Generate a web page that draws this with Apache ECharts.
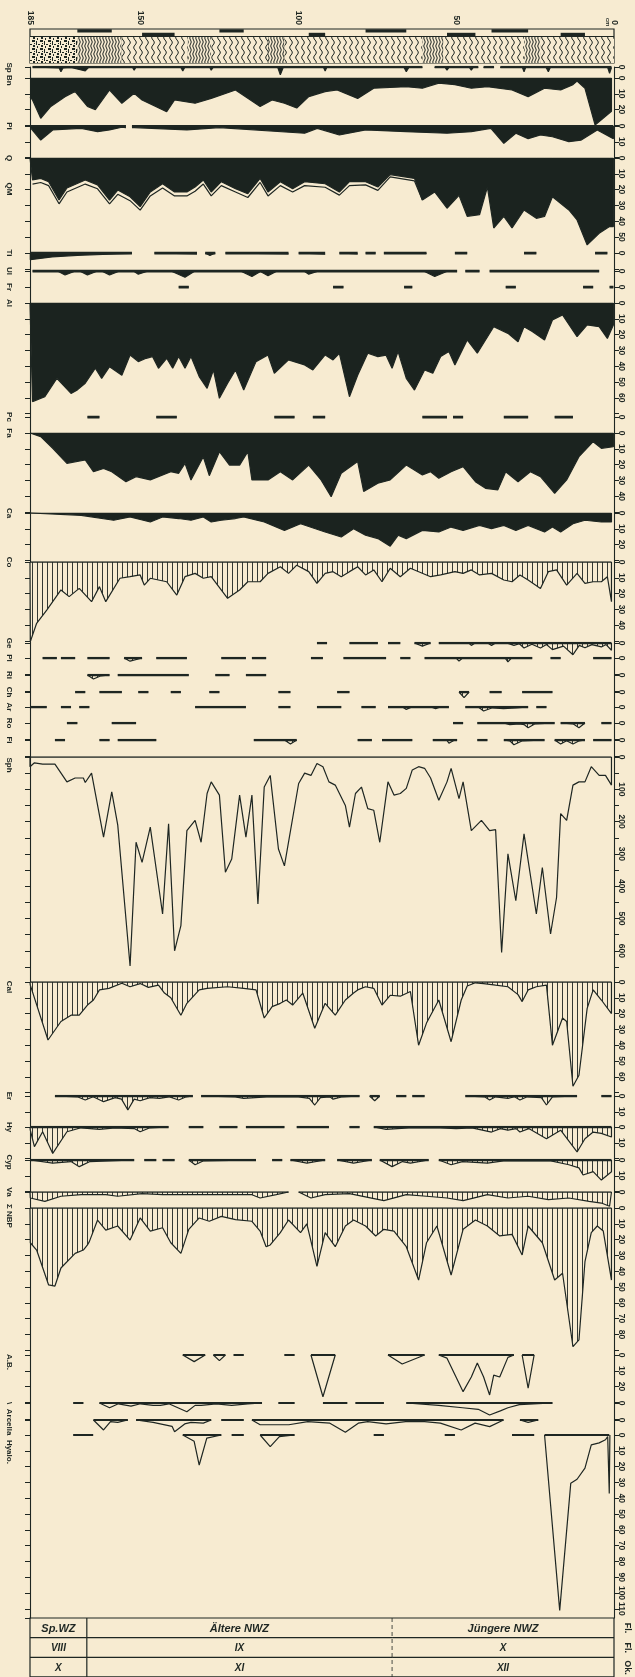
<!DOCTYPE html>
<html><head><meta charset="utf-8">
<script src="https://cdn.jsdelivr.net/npm/echarts@6/dist/echarts.min.js"></script>
<style>html,body{margin:0;padding:0;background:#f7ebd1;}#c{width:635px;height:1677px;}</style>
</head><body><div id="c"></div>
<script>
// ---------------- DATA (depth cm, value) ----------------
const DEPTH_LABELS = [185, 150, 100, 50, 0];

const SP = [[184.2,0],[175.8,0.5],[175.2,3],[174.5,0.5],[172,0.3],[167.5,2.5],[166.5,0.3],[152.5,0.3],[152,2],[151.5,0.3],[137.2,0.3],[136.6,2.5],[136,0.3],[128,0.3],[127.6,2],[127,0.3],[106.5,0.3],[105.7,5],[104.8,0.3],[92,0.3],[91.5,2.5],[91,0.3],[66.5,0.3],[65.8,3],[65,0.3],[60.7,0.3],[60.7,null],[56.8,0.3],[53.5,0.3],[52.9,2],[52.3,0.3],[45.8,0.3],[45.2,2],[44.6,0.3],[43,0.3],[43,null],[41.3,0.3],[38,0.3],[38,null],[36,0.3],[29,0.3],[28.5,3],[28,0.3],[21.5,0.3],[20.8,3],[20.2,0.3],[2,0.3],[1.4,4],[0.8,0.3]];
const BN = [[185,12],[184.2,13.9],[181.6,25.5],[178.4,18],[173.9,11.8],[170.7,8.6],[166.8,18],[164.3,20],[159.8,7.6],[155.9,16],[152,9.7],[149.5,13.9],[141.7,21.3],[139.2,13.9],[132.7,16],[127.6,12.9],[119.9,7.6],[112.1,18],[108.3,13.9],[104.4,16],[100.5,19],[96.7,11.8],[91.5,8.6],[87.7,7.6],[81.2,12.9],[76.1,6.5],[65.8,5.5],[60.7,6.5],[55.5,3.2],[50.4,4.2],[45.2,6.5],[40.1,5.5],[32.3,7.6],[27.2,11.8],[22,6.5],[16.9,7.6],[13,4.2],[11.7,2],[9.2,6.5],[6,29.7],[0.8,21],[0.8,0]];
const PI = [[184.9,1],[181.6,8.9],[177.8,2.5],[168.8,1.5],[163.6,3.6],[159.8,2.5],[155.9,0.8],[154.6,1],[154.6,null],[152.7,1],[152,1],[135.3,2.5],[125,1],[98,4.6],[94,1.5],[87,5.7],[78.7,2.5],[65.8,3.6],[52.9,4.6],[45.2,3.6],[39,1.5],[34.9,11],[31.1,4.6],[27.2,8],[23.3,5.7],[19.5,6.8],[14.3,9.9],[10.5,9],[5.3,2.5],[0.2,8],[0.2,0]];
const Q = [[185,0],[184.2,13.9],[181.6,12.9],[179.1,15],[175.8,26.6],[173.3,19],[167.5,13.9],[163.6,17],[159.8,26.6],[157.2,20.3],[153.3,24.5],[150.1,30.8],[146.9,21.5],[143,16.3],[139.2,21.5],[135.3,21.5],[132.7,18.4],[130.1,13.9],[127.6,21.5],[124.4,15],[119.9,19.4],[116,22.6],[112.1,12.9],[109.6,21.5],[105.7,15],[101.8,19.4],[98,15],[91.5,16.3],[87,21.5],[83.8,15],[78.7,15],[74.8,18.4],[70.9,10.5],[63.2,12.9],[60.7,26.6],[56.8,21.5],[52.9,31.8],[49.1,23.6],[46.5,36.9],[42.6,35.9],[40.1,18.4],[38.1,44.3],[34.9,36.9],[32.3,44.3],[28.5,32.9],[24.6,38.2],[22,37],[19.5,24.5],[14.3,32.9],[11.7,39.2],[8.5,55],[4.7,47.6],[1.4,43.4],[0.2,43.4],[0.2,0]];
const QM = [[184.2,16.5],[181.6,15.5],[179.1,17.5],[175.8,29],[173.3,21.5],[167.5,16.5],[163.6,19.5],[159.8,29],[157.2,23],[153.3,27],[150.1,33],[146.9,24],[143,19],[139.2,24],[135.3,24],[132.7,21],[130.1,16.5],[127.6,24],[124.4,17.5],[119.9,21.5],[116,25],[112.1,15.5],[109.6,24],[105.7,17.5],[101.8,21.5],[98,17.5],[91.5,18.5],[87,23.5],[83.8,17.5],[78.7,17],[74.8,20.5],[70.9,12],[63.2,14.5],[60.7,26.6]];
const TI = [[184.9,0],[184.9,4.2],[178,2.5],[170,1.5],[160,0.8],[152.7,0.3],[152.7,null],[145.6,0],[132.1,0.5],[132.1,null],[129.5,0],[128,1.5],[126.3,0],[126.3,null],[123.1,0],[103.1,0.5],[103.1,null],[99.9,0],[91.5,0.8],[91.5,null],[87,0],[81.2,0.5],[81.2,null],[78.7,0],[75.5,0],[75.5,null],[72.9,0],[59.4,0.3],[59.4,null],[50.4,0],[46.5,0],[46.5,null],[28.5,0],[24.6,0],[24.6,null],[6,0],[2.1,0]];
const UL = [[184.2,0],[176,0.3],[173.9,2.5],[171,0.3],[169,0.3],[166.8,2.5],[164,0.3],[162,0.3],[159.8,2.5],[157,0.3],[152,0.3],[150.7,2],[148,0.3],[140,0.3],[135.9,4],[133,0.3],[118,0.3],[114.7,3.5],[112,0.3],[109.6,3],[107,0.3],[98,0.3],[96.7,2],[94,0.3],[60,0.3],[56.8,3.5],[53,0.3],[49.7,0],[49.7,null],[47.1,0],[42.6,0],[42.6,null],[39.4,0],[4.7,0]];
const FR_DASHES = [[137.9,134.7],[89,85.7],[66.5,63.9],[34.3,31.1],[9.8,6.6],[1.4,0.2]];
const AL = [[185,0],[184.2,62.4],[180.3,59.3],[176.5,47.7],[172,57.2],[170,55],[167.5,50.8],[164.3,41.3],[162.3,47.7],[159.8,40.3],[155.9,45.7],[153.3,32.9],[150.7,37.1],[148.2,35],[146.2,33.9],[144.3,41.3],[141.7,35],[139.8,41.3],[137.9,33.9],[135.9,41.3],[134,33.9],[131.4,46.6],[128.9,54],[126.9,42.4],[125,60.3],[122.4,50.8],[119.9,42.4],[117.3,55.1],[113.4,37.1],[109.6,32.9],[107.6,44.5],[103.1,36],[98,39.2],[95.4,42.4],[91.5,32.9],[89,36],[87,31.8],[83.8,59.3],[81.2,45.7],[78,31.8],[74.8,33.9],[72.2,33],[70.3,41.3],[68.4,30.7],[65.8,47.7],[63.2,55.1],[60,42.4],[57.4,44.5],[54.9,33.9],[52.3,30.7],[50.4,39.2],[46.5,23.4],[43.3,31.8],[38.1,15],[33.6,19.2],[30.4,24.5],[28.5,15],[25.9,18.1],[22,23.4],[19.5,10.8],[16.3,7.6],[11.7,21.3],[8.5,13.9],[4.7,15],[2.1,22.4],[0.2,13.9],[0.2,0]];
const PC_DASHES = [[166.8,163],[145,138.5],[107.6,101.2],[95.4,91.5],[60.7,52.9],[51,47.8],[34.9,27.2],[18.8,13]];
const FA = [[185,0],[181.6,2.3],[177.8,9.7],[173.3,19.2],[167.5,17.1],[164.9,24.5],[161.7,22.4],[159.1,24.5],[154.6,30.8],[151.4,27.6],[146.9,29.7],[140.4,24.5],[137.9,25.5],[135.9,19.2],[134,29.7],[130.1,15],[128.2,27],[125,11.8],[121.8,20.3],[118.6,20.3],[116,11.8],[114.7,29.7],[109.6,29.7],[105.7,24.5],[101.8,29.7],[96.7,20.3],[92.8,29.7],[89.6,40.3],[86.4,25.5],[81.2,18.1],[79.3,37],[74.8,31.8],[70.9,29.7],[65.8,20.3],[60.7,26.6],[58.1,24.5],[55.5,28.7],[51.6,24.5],[47.8,21.3],[43.9,30.8],[40.7,35],[36.8,36],[34.3,24.5],[30.4,30.8],[26.5,24.5],[23.3,27.6],[18.8,38.2],[15,29.7],[11.1,15],[6.6,5.5],[4,9.7],[0.2,8.7],[0.2,0]];
const CA = [[185,0],[184.9,0.4],[168.8,1.5],[158.5,4.6],[153.3,2.5],[146.9,5.7],[143,2.5],[137.9,3.5],[134,4.6],[130.1,2.5],[127.6,5.7],[124.4,4.6],[119.9,3.5],[117.3,2.5],[110.8,5.7],[104.4,11],[99.3,6.8],[91.5,12],[86.4,15.2],[82.5,9.9],[78.7,14.1],[74.8,16.2],[70.9,21],[68.4,14.1],[65.8,16.2],[60.7,11],[55.5,12],[51.6,8.9],[47.8,11],[42.6,7.8],[38.8,9.9],[34.9,7.8],[31.1,11],[27.2,7.8],[22,12],[19.5,8.9],[16.9,12],[13,6.8],[9.2,4.6],[4,5.7],[0.8,5.7],[0.8,0]];
const CO = [[185,0],[184.9,50.4],[182.9,38.8],[179.7,30.4],[177.8,25.1],[175.2,17.7],[172.6,21.9],[169.4,16.7],[165.5,25.1],[163,15.6],[161,25.1],[156.5,10.3],[153.3,9.3],[150.1,8.2],[148.8,14.6],[146.9,10.3],[141.7,12.5],[138.5,20.9],[135.9,9.3],[132.7,7.2],[130.1,10.3],[127.6,9.3],[122.4,23],[118.6,17.7],[116,12.5],[112.1,12.5],[109.6,7.2],[105.7,3],[103.1,7.2],[100.5,2],[96.7,6.1],[94.1,13.5],[91.5,7.2],[89,6.1],[86.4,9.3],[83.8,6.1],[81.2,3],[78.7,8.2],[76.1,5],[73.5,12.5],[70.9,4],[67.7,9.3],[64.5,4],[58.1,9.3],[54.9,8.2],[50.4,6.1],[47.8,7.2],[45.2,5],[42.6,8.2],[38.8,7.2],[34.9,11.4],[32.3,12.5],[29.8,8.2],[27.2,11.4],[23.3,16.7],[20.8,6.1],[18.2,5],[15,14.6],[11.7,7.2],[9.2,13.5],[6.6,12.5],[4,12.5],[2.1,9.3],[0.8,25.1],[0.8,0]];
const GE_SEGS = [[[94.1,0],[90.9,0]],[[83.8,0],[74.8,0]],[[71.6,0],[67.7,0]],[[63.2,0],[60.7,2],[58.1,0]],[[55.5,0],[46,0],[45.2,1.5],[44,0],[40,0],[38.8,1.5],[37.5,0],[34,0],[31.7,1.5],[30,0.5],[28.5,3.2],[26,0.8],[23.3,3.2],[21.4,1],[19.5,4.2],[16,2],[13,7.4],[11,1.5],[9.2,3],[7,1],[4,2.5],[2.5,1],[0.8,4.6],[0.8,0]]];
const PL_SEGS = [[[181,0],[176.5,0]],[[175.2,0],[170.7,0]],[[166.8,0],[159.8,0]],[[155.2,0],[153.3,2],[149.5,0]],[[145,0],[135.3,0]],[[124.4,0],[116.6,0]],[[114.7,0],[110.2,0]],[[96,0],[92.2,0]],[[85.7,0],[72.2,0]],[[67.7,0],[64.5,0]],[[60,0],[50,0],[49.1,2],[48,0],[34.5,0],[33.6,2.5],[32.5,0],[25.9,0]],[[20.1,0],[16.9,0]],[[6.6,0],[0.8,0]]];
const RI_SEGS = [[[166.8,0],[164.9,2.5],[162.5,0.5],[159.8,0]],[[157.2,0],[134.7,0]],[[126.3,0],[121.8,0]],[[116.6,0],[110.2,0]]];
const CH_SEGS = [[[170.7,0],[167.5,0]],[[163,0],[155.9,0]],[[150.7,0],[147.5,0]],[[140.4,0],[137.2,0]],[[128.2,0],[125,0]],[[106.3,0],[102.5,0]],[[87.7,0],[83.8,0]],[[49.1,0],[47.5,3.5],[45.9,0]],[[39.4,0],[35.6,0]],[[29.1,0],[19.5,0]]];
const AR_SEGS = [[[184.9,0],[179.7,0]],[[175.2,0],[172,0]],[[169.4,0],[166.2,0]],[[132.7,0],[116.6,0]],[[106.3,0],[102.5,0]],[[94.1,0],[86.4,0]],[[80,0],[75.5,0]],[[71.6,0],[67,0],[65.8,1.5],[64,0],[58,0],[56.5,1],[55,0],[52.3,0]],[[47.1,0],[43,0],[41.3,2.5],[38.5,0.5],[35,1],[31,0.5],[27.2,0]],[[24.6,0],[21.4,0]]];
const RO_SEGS = [[[173.3,0],[170,0]],[[159.1,0],[151.4,0]],[[51,0],[47.8,0]],[[43.3,0],[35,0],[33,1],[30,0.5],[28.5,1],[27.2,3],[25,0.5],[18.8,0]],[[16.9,0],[13,0.5],[11.1,3],[9.2,0]],[[4,0],[0.8,0]]];
const FI_SEGS = [[[177.1,0],[173.9,0]],[[163,0],[159.8,0]],[[157.2,0],[145,0]],[[114.1,0],[104.4,0],[102.5,2.5],[100.5,0]],[[81.2,0],[76.7,0]],[[73.5,0],[63.9,0]],[[57.4,0],[53,0],[52.3,2],[50.5,0],[49.7,0]],[[43.3,0],[40.1,0]],[[34.9,0],[33,0.5],[31.7,3],[29,0.5],[22,0]],[[18.8,0],[16.9,2.5],[15,0.5],[13,2.5],[11,0.5],[9.2,0]],[[6.6,0],[0.8,0]]];
const SPH = [[185,0],[185,30],[183.6,18],[181,22],[177.1,22],[173.3,77],[170.7,65],[168.1,65],[167.5,79],[165.5,50],[161.7,248],[159.1,108],[157.2,211],[153.3,647],[151.4,264],[149.5,326],[146.9,217],[143,486],[141.1,207],[139.2,600],[137.2,522],[135.3,228],[132.7,196],[130.8,264],[128.9,113],[127.6,77],[125,118],[123.1,357],[121.1,316],[118.6,118],[116.6,248],[114.7,118],[112.8,455],[110.8,93],[108.9,57],[106.3,285],[104.4,337],[99.9,82],[98,50],[96,57],[94.1,20],[92.2,30],[90.3,77],[88.3,87],[85.1,150],[83.8,217],[81.9,113],[80,93],[78,160],[76.1,165],[74.2,264],[71.6,77],[69.7,118],[67.7,113],[65.8,97],[63.9,40],[61.9,30],[60,35],[58.1,65],[55.5,134],[52.9,77],[51.6,35],[49.1,129],[47.8,77],[45.2,228],[42,196],[39.4,228],[37.5,225],[35.6,605],[33.6,300],[31.1,445],[28.5,238],[24.6,486],[22.7,342],[20.1,548],[18.2,435],[16.9,175],[15,196],[13,87],[11.1,77],[9.2,77],[7.2,30],[4.7,57],[2.7,57],[0.8,87],[0.8,0]];
const CAL = [[185,0],[184.9,2],[179.3,36.7],[175.2,25],[172,21],[169.4,21],[166.8,14.6],[164.9,11.4],[163,5],[160,4],[155.9,0.8],[153.3,3],[150.1,1],[147.5,3.4],[144.3,2],[142.4,7],[140.4,10],[137.2,21],[135.3,13.5],[131.4,5],[128.9,4],[122.4,3],[117.3,4],[113.4,5],[110.8,22.8],[108.3,15.6],[105.7,13.5],[103.8,11.4],[101.8,14.6],[98.6,7],[94.8,29.3],[91.5,13.5],[88.3,21],[85.1,11.4],[82.5,7],[81.2,5],[78.7,3],[76.1,4],[73.5,14.6],[70.9,8.4],[67.7,9],[64.5,6],[61.9,40],[59.4,26],[55.5,11.4],[51.6,37.8],[48.4,11.4],[46.5,2.5],[43.9,0.5],[41.3,1],[37.5,2],[33.6,3],[30.4,8],[29.1,12.4],[27.2,5],[24.6,3],[21.4,2],[19.5,40],[16.3,22.8],[15,25],[13,66],[11.1,59],[8.5,16.7],[6.6,5],[4,11.4],[0.8,20],[0.8,0]];
const ER_SEGS = [[[177.1,0],[170,0.5],[167.5,2.5],[165,0.5],[161.7,3.6],[158,1],[156,2],[154,8.9],[152,2],[150.1,3],[147,1],[144,1.5],[141,0.5],[137.9,2.5],[135.5,0.5],[133.4,0]],[[130.8,0],[120,0.5],[117.3,1.5],[110,0.5],[100,0.5],[96.5,1.5],[94.8,5.7],[93,1],[90,0.5],[89,2],[86,0.5],[80.6,0]],[[77.4,0],[75.8,3],[74.2,0]],[[69,0],[65.8,0]],[[63.9,0],[60,0]],[[47.1,0],[41,0.5],[39.4,2.5],[37.5,0.5],[33.6,1.5],[31.5,0.5],[29.8,2.5],[27.5,0.5],[23,1],[21.4,5.7],[19.5,0.5],[11.7,0]],[[4,0],[0.8,0]]];
const HY_SEGS = [[[185,0],[184.9,2],[183.6,12.4],[181,3],[177.8,16.7],[173.3,3],[168.8,0.5],[163,1.5],[158,0.5],[152,1],[150.1,3],[147,0.5],[141.1,0]],[[134.7,0],[130.1,0]],[[125,0],[119.3,0]],[[116.6,0],[104.4,0]],[[100.5,0],[90.3,0]],[[83.8,0],[80.6,0]],[[76.1,0],[72.2,1.5],[65,0.5],[55,0.5],[50,1],[45,0.5],[38.8,3.2],[36,1],[33.6,2],[31,1],[29.8,3.2],[27,1],[21.4,7.4],[16.9,2],[11.7,15.8],[9.2,7.4],[6.6,3.2],[4,4],[0.8,6.3],[0.8,0]]];
const CYP_SEGS = [[[184.9,0],[177.8,2],[172,1],[169.4,4.2],[166,1],[160,0.5],[152,0]],[[148.8,0],[145,0]],[[143,0],[139.2,0]],[[134.7,0],[132.7,3],[130,0.5],[113.4,0]],[[108.3,0],[105.1,0]],[[102.5,0],[97.3,2],[91.5,0]],[[87.7,0],[82.5,2],[76.7,0]],[[74.2,0],[70.3,4.2],[67,1],[64.5,2],[58.7,0]],[[55.5,0],[51.6,3],[48,1],[40.1,2],[35,0.5],[20,0.5],[14.3,3],[11.1,5],[9.8,9.5],[6.6,7.4],[4,12.7],[0.8,7.4],[0.8,0]]];
const VA_SEGS = [[[185,0],[184.9,3.8],[180.3,5.9],[175.2,2.7],[168.8,1.7],[161,1.7],[157.2,2.7],[149.5,1],[143,1.7],[134,1.7],[122.4,1.7],[114.7,1.7],[112.1,3.8],[107,1.7],[103.1,0]],[[99.9,0],[96,3.8],[91.5,1.7],[83.8,1],[72.9,5.5],[65.8,1.7],[59.4,2.7],[52.9,3.8],[47.8,5.5],[40.1,1.7],[33.6,3.8],[27.2,2.7],[20.8,4.8],[14.3,3.8],[7.9,5.9],[4,7],[1.4,9],[0.8,9.5],[0.8,0]]];
const NBP = [[185,0],[184.9,22],[182.9,26.6],[179.1,48.7],[177.1,49.4],[175.2,38],[170.7,28.7],[168.1,26.6],[166.8,23.4],[166.2,21.3],[163.6,7.6],[161,14],[157.2,11.4],[153.3,20.3],[150.1,6.3],[146.9,14.6],[143,12.5],[140.4,22],[137.2,28.7],[134.7,13.5],[131.4,6.3],[128.2,8.4],[124.4,5.3],[119.9,7.4],[114.7,8.4],[112.1,14.6],[110.2,24.5],[108.9,23.4],[105.7,15.6],[103.1,7.6],[99.3,15.6],[97.3,10],[94.1,37],[91.5,15.6],[88.3,24.5],[85.1,11.4],[82.5,7.6],[78.7,11.4],[75.5,17.7],[72.9,13.5],[69.7,14.6],[65.8,24.5],[61.9,45.6],[59.4,22],[56.1,11.4],[51.6,42.4],[47.8,13.5],[43.9,7.6],[40.1,11.4],[36.2,17.7],[32.3,16.7],[29.1,29.7],[27.2,11.4],[22.7,22],[18.8,45.6],[16.3,41.3],[13,87.8],[11.1,83.5],[9.2,34],[7.2,15.6],[5.3,11.4],[3.4,14.6],[0.8,45.6],[0.8,0]];
const AB_SEGS = [[[136.6,0],[133,4.2],[129.5,0]],[[126.9,0],[125,3.6],[123.1,0]],[[120.5,0],[117.3,0]],[[104.4,0],[101.2,0]],[[96,0],[92.2,26.4],[88.3,0]],[[71.6,0],[67.1,5.7],[60,0]],[[55.5,0],[52.9,2],[47.8,23.2],[45.2,13.9],[43.3,5],[41.3,13.9],[39.4,25.3],[38.1,12.7],[36.2,13.9],[33.6,1.5],[31.7,0]],[[29.1,0],[27.2,21],[25.3,0]]];
const ARC1_SEGS = [[[171.3,0],[168.1,0]],[[163,0],[159.8,3],[157,0.5],[153,2],[150,0.5],[146,1.5],[143.7,1.5],[141,0.5],[135.3,5.5],[132.7,1.5],[130.8,1.5],[126,0.5],[121.1,1.5],[116,0.5],[111.5,0]],[[106.3,0],[101.2,0]],[[92.2,0],[84.5,0]],[[81.9,0],[72.9,0]],[[65.8,0],[55.5,1.5],[48,3],[43,4],[39.4,7.6],[36,5],[33.6,3],[30,1],[19.5,0]]];
const ARC2_SEGS = [[[164.9,0],[161.7,6.3],[159.5,1],[157.2,1.5],[154,0]],[[151.4,0],[146,1.5],[140,4],[139.2,7.4],[136,2.5],[134,1.5],[130.1,2],[127.6,0]],[[124.4,0],[117.3,0]],[[114.7,0],[112.1,3],[108,3],[103,3],[97,1],[90,2],[85.1,7.8],[81,2],[78,1],[72.2,2.5],[66,1],[60,1],[55,2],[48.4,6.3],[44,2],[39.4,4.2],[35,0]],[[29.8,0],[27.2,1.5],[24,0]]];
const HYA_SEGS = [[[171.3,0],[165,0]],[[136.6,0],[133,4],[131.4,19],[129,2],[124.4,0]],[[121.1,0],[117.3,0]],[[112.1,0],[108.9,7.4],[106,1],[101.2,0]],[[76.1,0],[72.9,0]],[[53.6,0],[50.4,0]],[[32.3,0],[25.3,0]],[[22,0],[17.2,111],[13.7,30.6],[11.7,28],[9.2,21],[7.2,6.3],[4.7,5],[2.7,3],[2,1],[1.5,37],[1.3,0]]];

// lithology: [fromDepth, toDepth, kind]
const LITHO = [[185,170,'mottled'],[170,156,'dense'],[156,135,'wavy'],[135,127.6,'dense'],[127.6,109.6,'wavy'],[109.6,104.4,'dense'],[104.4,60.7,'wavy'],[60.7,54,'dense'],[54,28.5,'wavy'],[28.5,23.3,'dense'],[23.3,0,'wavy']];
const TOP_BAND = [[170,159.1,0],[149.5,139.2,1],[125,117.3,0],[96.7,91.5,1],[78.7,65.8,0],[52.9,43.9,1],[38.8,27.2,0],[16.9,9.2,1]];
// zone table
const TABLE_CELLS = [['Sp.WZ',185,167,0],['Ältere NWZ',167,70.3,0],['Jüngere NWZ',70.3,0,0],['VIII',185,167,1],['IX',167,70.3,1],['X',70.3,0,1],['X',185,167,2],['XI',167,70.3,2],['XII',70.3,0,2]];
const ZONE_BOUNDS = [[167,'solid'],[70.3,'dashed']];
const ROW_TAGS = ['Fl.','Fl.','Ok.'];

// ---------------- LAYOUT / STYLE ----------------
const INK = '#1e2622', FILL = '#1b231f', BG = '#f7ebd1';
const GL = 30, GW = 584;
const PCT = 1.58; // px per %
function joinSegs(segs){const o=[];segs.forEach((s,i)=>{if(i)o.push([s[0][0],null]);s.forEach(p=>o.push(p));});return o;}
function dashes(pairs){return joinSegs(pairs.map(p=>[[p[0],0],[p[1],0]]));}

const PANELS = [
 {label:'Sp Bn',ly:74, data:SP, top:67, bottom:78, kind:'black', lm:0, base:2.5},
 {label:'',ly:0, data:BN, top:78, bottom:126, kind:'black', lm:20, base:1},
 {label:'Pi',ly:126, data:PI, top:126, bottom:158, kind:'black', lm:10, base:2},
 {label:'Q',ly:158, data:Q, top:158, bottom:253, kind:'black', lm:50, base:1},
 {label:'Ti',ly:253, data:TI, top:253, bottom:271, kind:'black', lm:0, base:3},
 {label:'Ul',ly:271, data:UL, top:271, bottom:287, kind:'black', lm:0, base:3},
 {label:'Fr',ly:287, data:dashes(FR_DASHES), top:287, bottom:303, kind:'black', lm:0, base:3},
 {label:'Al',ly:303, data:AL, top:303, bottom:417, kind:'black', lm:60, base:1},
 {label:'Pc',ly:417, data:dashes(PC_DASHES), top:417, bottom:433, kind:'black', lm:0, base:3},
 {label:'Fa',ly:433, data:FA, top:433, bottom:513, kind:'black', lm:40, base:1},
 {label:'Ca',ly:513, data:CA, top:513, bottom:562, kind:'black', lm:20, base:1},
 {label:'Co',ly:562, data:CO, top:562, bottom:643, kind:'hatch', lm:40, base:1.3},
 {label:'Ge',ly:643, data:joinSegs(GE_SEGS), top:643, bottom:658, kind:'hatch', lm:0, base:2.6},
 {label:'Pl',ly:658, data:joinSegs(PL_SEGS), top:658, bottom:675, kind:'hatch', lm:0, base:2.6},
 {label:'Ri',ly:675, data:joinSegs(RI_SEGS), top:675, bottom:692, kind:'hatch', lm:0, base:2.6},
 {label:'Ch',ly:692, data:joinSegs(CH_SEGS), top:692, bottom:707, kind:'hatch', lm:0, base:2.6},
 {label:'Ar',ly:707, data:joinSegs(AR_SEGS), top:707, bottom:723, kind:'hatch', lm:0, base:2.6},
 {label:'Ro',ly:723, data:joinSegs(RO_SEGS), top:723, bottom:740, kind:'hatch', lm:0, base:2.6},
 {label:'Fi',ly:740, data:joinSegs(FI_SEGS), top:740, bottom:757, kind:'hatch', lm:0, base:2.6},
 {label:'Sph',ly:765, data:SPH, top:757, bottom:982, kind:'open', lm:600, base:1.3, ppu:0.323, iv:50, step:100},
 {label:'Cal',ly:987, data:CAL, top:982, bottom:1096, kind:'hatch', lm:60, base:1.3},
 {label:'Er',ly:1096, data:joinSegs(ER_SEGS), top:1096, bottom:1127, kind:'hatch', lm:10, base:2.4},
 {label:'Hy',ly:1127, data:joinSegs(HY_SEGS), top:1127, bottom:1160, kind:'hatch', lm:10, base:2.4},
 {label:'Cyp',ly:1162, data:joinSegs(CYP_SEGS), top:1160, bottom:1192, kind:'hatch', lm:10, base:2.4},
 {label:'Va',ly:1192, data:joinSegs(VA_SEGS), top:1192, bottom:1208, kind:'hatch', lm:0, base:1.4},
 {label:'Σ NBP',ly:1216, data:NBP, top:1208, bottom:1355, kind:'hatch', lm:80, base:1.3},
 {label:'A.B.',ly:1362, data:joinSegs(AB_SEGS), top:1355, bottom:1403, kind:'open', lm:20, base:2},
 {label:'',ly:0, data:joinSegs(ARC1_SEGS), top:1403, bottom:1420, kind:'open', lm:0, base:2},
 {label:'',ly:0, data:joinSegs(ARC2_SEGS), top:1420, bottom:1435, kind:'open', lm:0, base:2},
 {label:'',ly:0, data:joinSegs(HYA_SEGS), top:1435, bottom:1618, kind:'open', lm:110, base:2}
];
const EXTRA_LABELS = [['QM',189],['\\  Arcella  Hyalo.',1433]];

// patterns
function mk(w,h,draw){const c=document.createElement('canvas');c.width=w;c.height=h;const x=c.getContext('2d');x.fillStyle=BG;x.fillRect(0,0,w,h);draw(x,w,h);return c;}
function wave(x,w,h,amp,lw){x.strokeStyle=INK;x.lineWidth=lw;x.beginPath();for(let y=0;y<=h;y++){const px=w/2+amp*Math.sin(2*Math.PI*y/h);y?x.lineTo(px,y):x.moveTo(px,y);}x.stroke();}
const PAT = {
 wavy:{image:mk(6,10,(x,w,h)=>wave(x,w,h,1.3,1.0)),repeat:'repeat'},
 dense:{image:mk(3,8,(x,w,h)=>wave(x,w,h,0.7,1.0)),repeat:'repeat'},
 mottled:{image:mk(8,8,(x,w,h)=>{x.fillStyle=INK;x.fillRect(0,0,3,2);x.fillRect(4,1,1,4);x.fillRect(6,4,2,1);x.fillRect(1,5,2,2);x.fillRect(5,6,1,2);x.fillRect(2,3,1,1);}),repeat:'repeat'}
};
const HATCH = {image:mk(5,4,(x,w,h)=>{x.fillStyle=INK;x.globalAlpha=0.9;x.fillRect(2,0,1,h);}),repeat:'repeat'};

const FONT = '"Liberation Sans Narrow","Liberation Sans",Arial,sans-serif';
const grids=[],xAxes=[],yAxes=[],series=[],graphics=[];

PANELS.forEach((p,i)=>{
  const h=p.bottom-p.top, ppu=p.ppu||PCT, iv=p.iv||10, step=p.step||10;
  const maxV=h/ppu;
  grids.push({left:GL,width:GW,top:p.top,height:h});
  xAxes.push({type:'value',gridIndex:i,min:0,max:185,inverse:true,show:false});
  const com={type:'value',gridIndex:i,min:0,max:maxV,inverse:true,interval:iv,splitLine:{show:false},
    axisLine:{show:true,onZero:false,lineStyle:{color:INK,width:1.1}},axisTick:{show:true,length:5,lineStyle:{color:INK,width:1}}};
  yAxes.push(Object.assign({},com,{position:'left',axisLabel:{show:false}}));
  yAxes.push(Object.assign({},com,{position:'right',axisLabel:{show:true,rotate:-90,fontSize:8.5,fontWeight:'bold',fontFamily:FONT,color:INK,margin:3,showMaxLabel:false,
    formatter:v=>(v<=p.lm+1e-6 && Math.abs(v/step-Math.round(v/step))<1e-6)?String(Math.round(v)):''}}));
  const st={type:'line',xAxisIndex:i,yAxisIndex:2*i,data:p.data,symbol:'none',silent:true,clip:false,
    lineStyle:{color:INK,width:1.2},z:3};
  if(p.kind==='black') st.areaStyle={color:FILL,opacity:1};
  if(p.kind==='hatch') st.areaStyle={color:HATCH,opacity:1};
  series.push(st);
  series.push({type:'line',xAxisIndex:i,yAxisIndex:2*i,symbol:'none',silent:true,z:4,
    data:p.data.map(d=>[d[0],d[1]==null?null:0]),lineStyle:{color:INK,width:p.base}});
  if(p.label) graphics.push({type:'text',x:9,y:p.ly,rotation:-Math.PI/2,style:{text:p.label,font:'bold 8px '+FONT,fill:INK,align:'center',verticalAlign:'middle'}});
});
// QM line in Q panel (index 3)
series.push({type:'line',xAxisIndex:3,yAxisIndex:6,data:QM,symbol:'none',silent:true,z:5,lineStyle:{color:INK,width:1.2}});
EXTRA_LABELS.forEach(l=>graphics.push({type:'text',x:9,y:l[1],rotation:-Math.PI/2,style:{text:l[0],font:'bold 8px '+FONT,fill:INK,align:'center',verticalAlign:'middle'}}));

// lithology grid
const LI = grids.length;
grids.push({left:GL,width:GW,top:29,height:34,show:true,borderColor:INK,borderWidth:1.2,backgroundColor:'transparent'});
xAxes.push({type:'value',gridIndex:LI,min:0,max:185,inverse:true,position:'top',axisLine:{show:false},axisTick:{show:false},splitLine:{show:false},
  axisLabel:{show:true,customValues:DEPTH_LABELS,rotate:-90,fontSize:8.5,fontWeight:'bold',fontFamily:FONT,color:INK,margin:4}});
yAxes.push({type:'value',gridIndex:LI,min:0,max:34,inverse:true,show:false});
const LYI = yAxes.length-1;
const KINDS=['wavy','dense','mottled'];
series.push({type:'custom',xAxisIndex:LI,yAxisIndex:LYI,silent:true,data:LITHO.map(s=>[s[0],s[1],KINDS.indexOf(s[2])]),
  renderItem:(params,api)=>{const s=LITHO[params.dataIndex];const a=api.coord([s[0],8]),b=api.coord([s[1],34]);
    return {type:'rect',shape:{x:a[0],y:a[1],width:b[0]-a[0],height:b[1]-a[1]},style:{fill:PAT[s[2]]}};}});
series.push({type:'custom',xAxisIndex:LI,yAxisIndex:LYI,silent:true,data:TOP_BAND.map(s=>[s[0],s[1],s[2]]),
  renderItem:(params,api)=>{const s=TOP_BAND[params.dataIndex];const a=api.coord([s[0],s[2]*3.5+0.3]),b=api.coord([s[1],s[2]*3.5+3.5]);
    return {type:'rect',shape:{x:a[0],y:a[1],width:b[0]-a[0],height:b[1]-a[1]},style:{fill:INK}};}});
series.push({type:'custom',xAxisIndex:LI,yAxisIndex:LYI,silent:true,data:[[185,0]],
  renderItem:(params,api)=>{const a=api.coord([185,7.5]),b=api.coord([0,7.5]);
    return {type:'line',shape:{x1:a[0],y1:a[1],x2:b[0],y2:b[1]},style:{stroke:INK,lineWidth:1.2}};}});
graphics.push({type:'text',x:608,y:22,rotation:-Math.PI/2,style:{text:'cm',font:'bold 6px '+FONT,fill:INK,align:'center',verticalAlign:'middle'}});

// zone table
const TI_ = grids.length;
grids.push({left:GL,width:GW,top:1618,height:59,show:true,borderColor:INK,borderWidth:1.2,backgroundColor:'transparent'});
xAxes.push({type:'value',gridIndex:TI_,min:0,max:185,inverse:true,show:false});
yAxes.push({type:'value',gridIndex:TI_,min:0,max:3,inverse:true,show:false});
const TYI = yAxes.length-1;
series.push({type:'custom',xAxisIndex:TI_,yAxisIndex:TYI,silent:true,data:TABLE_CELLS.map(c=>[c[1],c[2],c[3]]),
  renderItem:(params,api)=>{const c=TABLE_CELLS[params.dataIndex];const a=api.coord([c[1],c[3]]),b=api.coord([c[2],c[3]+1]);
    return {type:'group',children:[
      {type:'line',shape:{x1:a[0],y1:b[1],x2:b[0],y2:b[1]},style:{stroke:INK,lineWidth:1.2}},
      {type:'text',x:(a[0]+b[0])/2,y:(a[1]+b[1])/2+1,style:{text:c[0],font:'italic bold '+(c[3]===0?11:10)+'px "Liberation Sans",Arial,sans-serif',fill:INK,align:'center',verticalAlign:'middle'}}]};}});
series.push({type:'custom',xAxisIndex:TI_,yAxisIndex:TYI,silent:true,data:ZONE_BOUNDS.map(z=>[z[0],0]),
  renderItem:(params,api)=>{const z=ZONE_BOUNDS[params.dataIndex];const a=api.coord([z[0],0]),b=api.coord([z[0],3]);
    return {type:'line',shape:{x1:a[0],y1:a[1],x2:b[0],y2:b[1]},style:{stroke:INK,lineWidth:z[1]==='dashed'?0.8:1.2,lineDash:z[1]==='dashed'?[4,3]:null}};}});
ROW_TAGS.forEach((t,i)=>graphics.push({type:'text',x:627,y:1628+i*19.7,rotation:-Math.PI/2,style:{text:t,font:'bold 9px '+FONT,fill:INK,align:'center',verticalAlign:'middle'}}));

const chart = echarts.init(document.getElementById('c'),null,{renderer:'canvas'});
chart.setOption({backgroundColor:BG,animation:false,grid:grids,xAxis:xAxes,yAxis:yAxes,series:series,graphic:graphics});
</script></body></html>
